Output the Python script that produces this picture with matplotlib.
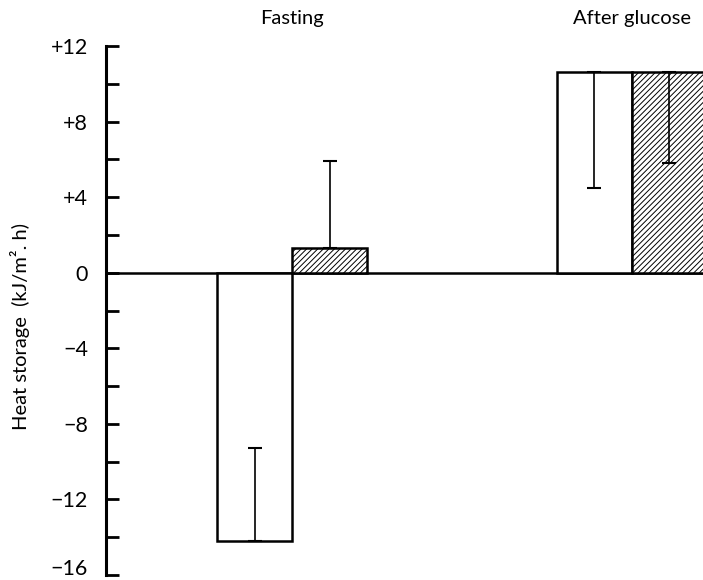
import matplotlib.pyplot as plt
from matplotlib.ticker import MultipleLocator

# values (kJ/m2.h)
groups = ['Fasting', 'After glucose']
group_pos = [2.48, 7.01]
open_vals = [-14.2, 10.6]
open_err_end = [-9.3, 4.5]      # far end of the one-sided error bar
hatch_vals = [1.3, 10.6]
hatch_err_end = [5.9, 5.8]
yticks = [12, 8, 4, 0, -4, -8, -12, -16]
ytick_labels = ['+12', '+8', '+4', '0', '\u22124', '\u22128', '\u221212', '\u221216']

plt.rcParams['font.family'] = ['Lato', 'DejaVu Sans']
plt.rcParams['hatch.linewidth'] = 0.7

fig = plt.figure(figsize=(7.03, 5.80), dpi=100)
ax = fig.add_axes([106 / 703, 5 / 580, 1 - 106 / 703, (575 - 46) / 580])

w = 1.0
for i, g in enumerate(groups):
    xo = group_pos[i] - w / 2
    xh = group_pos[i] + w / 2
    ax.bar(xo, open_vals[i], width=w, color='white', edgecolor='black', linewidth=1.8, zorder=2)
    ax.bar(xh, hatch_vals[i], width=w, color='white', edgecolor='black', linewidth=1.8,
           hatch='//////', zorder=2)
    for x, v, e in [(xo, open_vals[i], open_err_end[i]), (xh, hatch_vals[i], hatch_err_end[i])]:
        if e > v:
            yerr = [[0], [e - v]]
        else:
            yerr = [[v - e], [0]]
        ax.errorbar([x], [v], yerr=yerr, fmt='none', ecolor='black', elinewidth=1.2,
                     capsize=5, capthick=1.5, zorder=3)
    ax.text(group_pos[i], 13.0, g, ha='center', va='bottom', fontsize=14.5)

ax.axhline(0, color='black', linewidth=1.8, zorder=1)

ax.set_xlim(0, 597 / 75)
ax.set_ylim(-16, 12)
ax.set_yticks(yticks)
ax.set_yticklabels(ytick_labels, fontsize=15.5)
ax.get_yticklabels()[-1].set_va('baseline')
ax.yaxis.set_minor_locator(MultipleLocator(2))
ax.tick_params(axis='y', which='both', direction='in', length=9, width=2, pad=13)
ax.set_xticks([])
for s in ['top', 'right', 'bottom']:
    ax.spines[s].set_visible(False)
ax.spines['left'].set_linewidth(2.2)
ax.set_ylabel('Heat storage  (kJ/m\u00b2. h)', fontsize=14.5)
ax.yaxis.set_label_coords(-0.128, 0.47)

fig.savefig('out.png', dpi=100)
